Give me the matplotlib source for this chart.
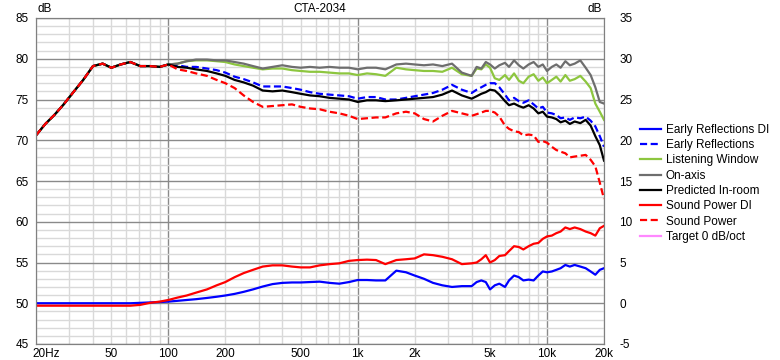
import matplotlib
matplotlib.use("Agg")
import matplotlib.pyplot as plt
import matplotlib.transforms as mtransforms
from matplotlib.ticker import FixedLocator, MultipleLocator, NullFormatter

plt.rcParams['font.family'] = ['Liberation Sans', 'DejaVu Sans']
plt.rcParams['axes.unicode_minus'] = False

freq = [20, 22.4, 25, 28, 31.5, 35.5, 40, 45, 50, 56, 63, 71, 80, 90, 100,
        112, 125, 140, 160, 180, 200, 224, 250, 280, 315, 355, 400, 450, 500,
        560, 630, 710, 800, 900, 1000, 1120, 1250, 1400, 1600, 1800, 2000,
        2240, 2500, 2800, 3150, 3550, 4000, 4250, 4500, 4750, 5000, 5300,
        5600, 6000, 6300, 6700, 7100, 7500, 8000, 8500, 9000, 9500, 10000,
        10600, 11200, 11800, 12500, 13200, 14000, 15000, 16000, 17000, 18000,
        19000, 20000]

# 20..100 Hz, all curves share the same bass
bass = [70.6, 72.0, 73.1, 74.4, 75.9, 77.4, 79.1, 79.4, 78.9, 79.3, 79.6,
        79.1, 79.1, 79.0, 79.3]

on_axis = bass + [
    79.4, 79.7, 79.9, 79.9, 79.8, 79.8, 79.6, 79.4, 79.1, 78.8, 79.0, 79.2,
    79.0, 78.9, 79.0, 78.9, 79.0, 78.9, 78.9, 78.7, 78.9, 78.9, 78.7, 79.3,
    79.4, 79.3, 79.2, 79.3, 79.1, 79.4, 78.3, 77.9, 79.0, 78.8, 79.6, 79.3,
    78.8, 79.2, 79.5, 79.0, 79.8, 79.2, 78.8, 79.3, 79.6, 79.0, 79.3, 78.5,
    79.0, 79.3, 78.9, 79.7, 79.2, 79.4, 79.8, 78.9, 78.0, 76.5, 74.7, 74.5]

listening_window = bass + [
    79.4, 79.7, 79.8, 79.8, 79.7, 79.6, 79.3, 79.1, 78.9, 78.7, 78.8, 78.8,
    78.6, 78.5, 78.4, 78.4, 78.3, 78.2, 78.2, 78.0, 78.2, 78.1, 77.9, 78.9,
    78.7, 78.6, 78.5, 78.5, 78.4, 78.9, 78.1, 77.9, 78.8, 78.7, 79.3, 78.9,
    77.6, 77.4, 78.0, 77.4, 78.2, 77.3, 77.0, 77.8, 78.1, 77.3, 77.7, 77.0,
    77.4, 77.8, 77.2, 78.0, 77.3, 77.5, 77.9, 77.2, 76.4, 74.5, 73.5, 72.5]

early_reflections = bass + [
    79.2, 79.0, 79.0, 78.8, 78.6, 78.3, 77.8, 77.5, 77.1, 76.6, 76.6, 76.6,
    76.4, 76.2, 75.9, 75.7, 75.6, 75.5, 75.4, 75.1, 75.3, 75.3, 75.0, 75.0,
    75.2, 75.4, 75.6, 75.8, 76.2, 76.8, 76.2, 75.8, 76.2, 76.5, 76.8, 77.0,
    77.0, 76.5, 75.6, 74.9, 75.2, 74.8, 74.6, 74.9, 74.4, 73.9, 74.1, 73.4,
    73.3, 73.1, 72.7, 72.8, 72.5, 72.8, 72.7, 72.9, 72.4, 71.7, 70.5, 69.2]

predicted_in_room = bass + [
    79.0, 78.9, 78.7, 78.5, 78.2, 77.9, 77.4, 77.1, 76.7, 76.1, 76.0, 76.1,
    75.9, 75.7, 75.5, 75.4, 75.2, 75.1, 75.0, 74.7, 74.9, 74.9, 74.8, 74.9,
    75.0, 75.1, 75.2, 75.3, 75.6, 76.1, 75.5, 75.1, 75.4, 75.7, 75.9, 76.2,
    76.1, 75.6, 74.8, 74.3, 74.5, 74.2, 74.0, 74.3, 73.9, 73.3, 73.5, 72.9,
    72.8, 72.6, 72.2, 72.4, 72.0, 72.3, 72.1, 72.5, 71.8, 70.5, 69.4, 67.5]

sound_power = bass + [
    78.7, 78.5, 78.2, 77.9, 77.4, 77.0, 76.4, 75.5, 74.7, 74.1, 74.2, 74.3,
    74.4, 74.1, 73.9, 73.8, 73.5, 73.3, 73.0, 72.6, 72.7, 72.8, 72.8, 73.3,
    73.5, 73.3, 72.6, 72.3, 73.0, 73.6, 73.3, 73.0, 73.2, 73.4, 73.6, 73.6,
    73.4, 72.9, 71.8, 71.4, 71.1, 71.0, 70.6, 70.7, 70.6, 69.8, 69.9, 69.7,
    69.2, 68.8, 68.6, 68.4, 67.9, 68.0, 68.1, 68.2, 67.6, 66.8, 64.8, 62.8]

# directivity indices, right axis units
er_di = [
    0.0, 0.0, 0.0, 0.0, 0.0, 0.0, 0.0, 0.0, 0.0, 0.0, 0.0, 0.05, 0.1, 0.15,
    0.2, 0.3, 0.4, 0.5, 0.65, 0.8, 0.95, 1.15, 1.4, 1.7, 2.05, 2.35, 2.5,
    2.55, 2.55, 2.6, 2.65, 2.5, 2.4, 2.6, 2.85, 2.85, 2.8, 2.8, 4.0, 3.8,
    3.4, 3.0, 2.5, 2.2, 2.0, 2.1, 2.1, 2.6, 2.8, 2.6, 1.7, 2.2, 2.4, 2.0,
    2.8, 3.4, 3.2, 2.8, 2.9, 2.8, 3.4, 3.9, 3.8, 3.9, 4.1, 4.3, 4.7, 4.5,
    4.7, 4.5, 4.3, 3.9, 3.5, 4.1, 4.3]

sp_di = [
    -0.3, -0.3, -0.3, -0.3, -0.3, -0.3, -0.3, -0.3, -0.3, -0.3, -0.3, -0.2,
    0.05, 0.2, 0.4, 0.7, 0.95, 1.3, 1.7, 2.2, 2.6, 3.2, 3.7, 4.1, 4.5, 4.65,
    4.65, 4.5, 4.4, 4.4, 4.65, 4.8, 4.9, 5.2, 5.3, 5.35, 5.3, 4.8, 5.3, 5.4,
    5.5, 6.0, 5.9, 5.7, 5.4, 4.8, 4.9, 5.0, 5.4, 5.9, 5.0, 5.3, 5.8, 5.9,
    6.4, 7.0, 6.9, 6.6, 7.0, 7.3, 7.4, 7.9, 8.2, 8.3, 8.6, 8.8, 9.3, 9.1,
    9.3, 9.1, 8.8, 8.6, 8.3, 9.2, 9.5]

x_ticks = [20, 50, 100, 200, 500, 1000, 2000, 5000, 10000, 20000]
x_labels = ['20Hz', '50', '100', '200', '500', '1k', '2k', '5k', '10k', '20k']

GREEN = '#8dc63f'
GRAY = '#6e6e6e'
PINK = '#ff88ff'
DASH = (0, (3.2, 1.6))

fig = plt.figure(figsize=(7.8, 3.6), dpi=100)
ax = fig.add_axes([36 / 780, 1 - 344 / 360, 568 / 780, 326 / 360])
ax2 = ax.twinx()

ax.set_xscale('log')
ax.set_xlim(20, 20000)
ax.set_ylim(45, 85)
ax2.set_ylim(-5, 35)

ax.xaxis.set_major_locator(FixedLocator([10, 100, 1000, 10000]))
ax.xaxis.set_minor_locator(FixedLocator(
    [m * d for d in (10, 100, 1000, 10000) for m in range(2, 10)]))
ax.xaxis.set_major_formatter(NullFormatter())
ax.xaxis.set_minor_formatter(NullFormatter())
ax.yaxis.set_major_locator(MultipleLocator(5))
ax.yaxis.set_minor_locator(MultipleLocator(1))
ax2.yaxis.set_major_locator(MultipleLocator(5))

ax.grid(which='minor', color='#d9d9d9', lw=1.0)
ax.grid(which='major', color='#8a8a8a', lw=1.0)
ax.set_axisbelow(True)

for a in (ax, ax2):
    for s in a.spines.values():
        s.set_color('#808080')
    a.tick_params(which='both', length=0, labelsize=8.5)
ax.tick_params(axis='y', pad=5)
ax2.tick_params(axis='y', pad=11)

# x labels as text so 20Hz can sit next to the edge
for f, lab in zip(x_ticks, x_labels):
    dx = 7 / 72 if lab == '20Hz' else 0
    tr = ax.get_xaxis_transform() + mtransforms.ScaledTranslation(dx, 0, fig.dpi_scale_trans)
    ax.text(f, -0.012, lab, transform=tr, ha='center', va='top', fontsize=8.5)

h = []
h += ax2.plot(freq, er_di, color='#0000ff', lw=1.6, label='Early Reflections DI')
h += ax.plot(freq, early_reflections, color='#0000ff', lw=1.6, ls=DASH, label='Early Reflections')
h += ax.plot(freq, listening_window, color=GREEN, lw=1.6, label='Listening Window')
h += ax.plot(freq, on_axis, color=GRAY, lw=1.6, label='On-axis')
h += ax.plot(freq, predicted_in_room, color='black', lw=1.6, label='Predicted In-room')
h += ax2.plot(freq, sp_di, color='#ff0000', lw=1.6, label='Sound Power DI')
h += ax.plot(freq, sound_power, color='#ff0000', lw=1.6, ls=DASH, label='Sound Power')
h += ax.plot([], [], color=PINK, lw=1.6, label='Target 0 dB/oct')

fig.legend(handles=h, loc='upper left', bbox_to_anchor=(635 / 780, 1 - 119 / 360),
           frameon=False, fontsize=8.5, handlelength=1.8, handletextpad=0.4,
           labelspacing=0.28, borderaxespad=0)

fig.text(320 / 780, 1 - 9 / 360, 'CTA-2034', ha='center', va='center', fontsize=8.5)
fig.text(38 / 780, 1 - 9 / 360, 'dB', ha='left', va='center', fontsize=8.5)
fig.text(602 / 780, 1 - 9 / 360, 'dB', ha='right', va='center', fontsize=8.5)

fig.savefig('out.png', dpi=100)
